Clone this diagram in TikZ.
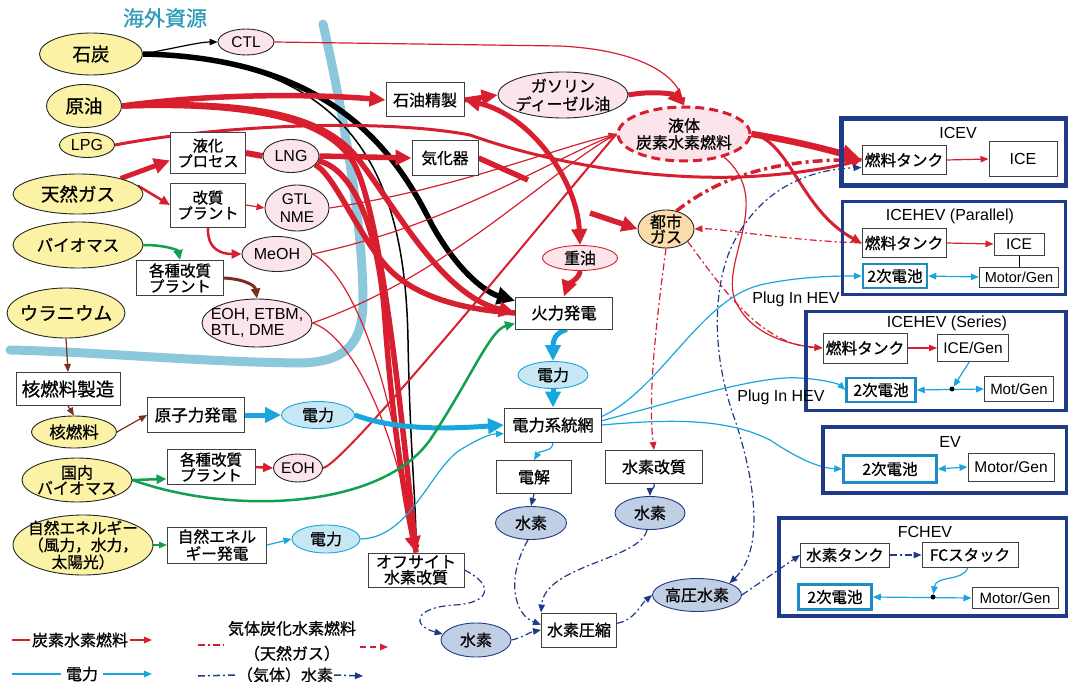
\documentclass[tikz,border=0pt]{standalone}
\usepackage{fontspec}
\setmainfont{Noto Sans CJK JP}[FakeBold=0.8]
\newfontfamily\lat{Liberation Sans}
\usetikzlibrary{arrows.meta,shapes.geometric}
\pgfdeclarelayer{bb}\pgfdeclarelayer{bg}
\pgfsetlayers{bb,bg,main}
\newcommand{\fz}[1]{\fontsize{#1}{#1}\selectfont}
\definecolor{cred}{HTML}{D71F30}
\definecolor{ccyan}{HTML}{18A6DE}
\definecolor{cnavy}{HTML}{1F3A88}
\definecolor{cgreen}{HTML}{13A04E}
\definecolor{cbrown}{HTML}{7B2E20}
\definecolor{cbound}{HTML}{8CC8DC}
\definecolor{fyel}{HTML}{FBF2A6}
\definecolor{fpink}{HTML}{FBE4EA}
\definecolor{forange}{HTML}{FADDAA}
\definecolor{fcyan}{HTML}{C6E7F3}
\definecolor{fhy}{HTML}{C1CFE4}
\definecolor{ctitle}{HTML}{2A9CB9}
\definecolor{cbat}{HTML}{1A8EC2}
\tikzset{
  lab/.style={align=center, inner sep=0},
  tx/.style 2 args={label={[lab,#1]center:{#2}}},
  sz/.style 2 args={minimum width=#1, minimum height=#2},
  ell/.style={ellipse, draw=black!85, line width=0.9, inner sep=0},
  yel/.style={ell, fill=fyel},
  pnk/.style={ell, fill=fpink},
  pw/.style={ell, fill=fcyan, draw=ccyan},
  hy/.style={ell, fill=fhy, draw=cnavy},
  bx/.style={rectangle, draw=black!75, fill=white, line width=1, inner sep=0, align=center, font=\fz{16}},
  veh/.style={rectangle, draw=cnavy, line width=3.5, inner sep=0},
  bat/.style={bx, draw=cbat, line width=2.5, font=\fz{15.5}},
  ah/.style={-{Triangle[length=16pt,width=15pt]}},
  am/.style={-{Triangle[length=10pt,width=9pt]}},
  asm/.style={-{Triangle[length=8pt,width=6.5pt]}},
  dd/.style={dash pattern=on 7pt off 3pt on 2pt off 3pt},
  dot/.style={circle, fill=black, inner sep=0, minimum size=5},
  ttxt/.style={font=\lat\fz{16}, inner sep=1},
}
\begin{document}
\begin{tikzpicture}[x=1pt,y=-1pt]
\useasboundingbox (0,0) rectangle (1068,682);

% title
\node[text=ctitle, font=\fz{21}] (ttl) at (165,18) {海外資源};

% yellow sources
\node[yel, sz={103}{42}, tx={font=\fz{18.5}}{石炭}] (coal) at (91,54) {};
\node[yel, sz={75}{43}, tx={font=\fz{18.5}}{原油}] (oil) at (84,106) {};
\node[yel, sz={55}{25}, tx={font=\lat\fz{16}}{LPG}] (lpg) at (87,145) {};
\node[yel, sz={130}{40}, tx={font=\fz{18.5}}{天然ガス}] (ng) at (78,194) {};
\node[yel, sz={130}{46}, tx={font=\fz{16.5}}{バイオマス}] (bio) at (78,245) {};
\node[yel, sz={118}{50}, tx={font=\fz{18.5}}{ウラニウム}] (ura) at (66,313) {};
\node[yel, sz={85}{32}, tx={font=\fz{16.5}}{核燃料}] (nfuel) at (74,432) {};
\node[yel, sz={110}{44}, tx={font=\fontsize{16}{15.5}\selectfont}{国内\\バイオマス}] (dbio) at (77,480) {};
\node[yel, sz={140}{60}, tx={font=\fontsize{15.7}{17}\selectfont}{自然エネルギー\\（風力，水力，\\太陽光）}] (nat) at (83,545) {};

% pink fuels
\node[pnk, sz={56}{26}, tx={font=\lat\fz{15.5}}{CTL}] (ctl) at (246,42) {};
\node[pnk, sz={56}{33}, tx={font=\lat\fz{16}}{LNG}] (lng) at (291,156) {};
\node[pnk, sz={64}{46}, tx={font=\lat\fontsize{15.5}{18}\selectfont}{GTL\\NME}] (gtl) at (297,208) {};
\node[pnk, sz={70}{35}, tx={font=\lat\fz{16}}{MeOH}] (meoh) at (277,254) {};
\node[pnk, sz={110}{48}, tx={font=\lat\fontsize{16}{15.5}\selectfont, align=left}{EOH, ETBM,\\BTL, DME}] (eoh1) at (257,323) {};
\node[pnk, sz={49}{28}, tx={font=\lat\fz{15.5}}{EOH}] (eoh2) at (298,468) {};
\node[pnk, sz={130}{46}, tx={font=\fontsize{16}{18}\selectfont}{ガソリン\\ディーゼル油}] (gas) at (563,95) {};
\node[pnk, sz={132}{54}, draw=cred, line width=3, dash pattern=on 9pt off 5pt, tx={font=\fontsize{16}{17}\selectfont}{液体\\炭素水素燃料}] (liq) at (684,134) {};
\node[pnk, sz={75}{25}, draw=cred, tx={font=\fz{16}}{重油}] (hvy) at (580,258) {};
\node[ell, fill=forange, sz={56}{38}, tx={font=\fontsize{16}{15}\selectfont}{都市\\ガス}] (city) at (666,229) {};

% power
\node[pw, sz={70}{27}, tx={font=\fz{16}}{電力}] (p1) at (553,375) {};
\node[pw, sz={73}{27}, tx={font=\fz{16}}{電力}] (p2) at (318,415) {};
\node[pw, sz={68}{28}, tx={font=\fz{16}}{電力}] (p3) at (326,539) {};

% hydrogen
\node[hy, sz={71}{33}, tx={font=\fz{16}}{水素}] (h1) at (531,523) {};
\node[hy, sz={70}{33}, tx={font=\fz{16}}{水素}] (h2) at (650,513) {};
\node[hy, sz={70}{34}, tx={font=\fz{16}}{水素}] (h3) at (476,640) {};
\node[hy, sz={89}{33}, tx={font=\fz{16}}{高圧水素}] (hp) at (697,595) {};

% boxes
\node[bx, sz={78}{34}] (ref) at (425,100) {石油精製};
\node[bx, sz={75}{41}, font=\fontsize{15.3}{15.5}\selectfont] (liqp) at (208,153) {液化\\プロセス};
\node[bx, sz={75}{44}, font=\fontsize{15.3}{15.5}\selectfont] (refp) at (208,205) {改質\\プラント};
\node[bx, sz={66}{34}, font=\fz{15.7}] (vap) at (445,158) {気化器};
\node[bx, sz={87}{35}, font=\fontsize{15.5}{15.5}\selectfont] (kp1) at (180,278) {各種改質\\プラント};
\node[bx, sz={104}{33}, font=\fz{18.5}] (nfm) at (68,389) {核燃料製造};
\node[bx, sz={97}{35}, font=\fz{16.5}] (npp) at (196,415) {原子力発電};
\node[bx, sz={88}{35}, font=\fontsize{15.5}{15.5}\selectfont] (kp2) at (211,467) {各種改質\\プラント};
\node[bx, sz={99}{36}, font=\fontsize{15.7}{17}\selectfont] (rep) at (217,545) {自然エネル\\ギー発電};
\node[bx, sz={97}{32}, font=\fz{16.3}] (tpp) at (564,313) {火力発電};
\node[bx, sz={97}{34}, font=\fz{16.3}] (grid) at (553,425) {電力系統網};
\node[bx, sz={75}{33}] (ely) at (534,477) {電解};
\node[bx, sz={97}{33}] (h2r) at (654,467) {水素改質};
\node[bx, sz={96}{34}, font=\fontsize{16}{15.5}\selectfont] (off) at (416,570) {オフサイト\\水素改質};
\node[bx, sz={75}{34}] (cmp) at (579,630) {水素圧縮};

% vehicles
\node[veh, line width=5, sz={225}{67}] (icev) at (954,152) {};
\node[ttxt] (icevt) at (958,133) {ICEV};
\node[bx, sz={84}{29}, font=\fz{15.7}] (ift1) at (904,160) {燃料タンク};
\node[bx, sz={68}{34}, font=\lat\fz{16}] (ice1) at (1023,159) {ICE};

\node[veh, sz={223}{93}] (par) at (954,248) {};
\node[ttxt] (part) at (950,216) {ICEHEV (Parallel)};
\node[bx, sz={84}{29}, font=\fz{15.7}] (ift2) at (904,243) {燃料タンク};
\node[bx, sz={50}{22}, font=\lat\fz{15.5}] (ice2) at (1019,244) {ICE};
\node[bat, sz={64}{24}] (bat2) at (895,276) {2次電池};
\node[bx, sz={79}{20}, font=\lat\fz{14.5}] (mg2) at (1019,277) {Motor/Gen};

\node[veh, sz={260}{99}] (ser) at (936,361) {};
\node[ttxt] (sert) at (947,323) {ICEHEV (Series)};
\node[bx, sz={84}{30}, font=\fz{15.7}] (ift3) at (865,348) {燃料タンク};
\node[bx, sz={71}{27}, font=\lat\fz{15.5}] (iceg) at (973,348) {ICE/Gen};
\node[bat, sz={69}{24}] (bat3) at (881,390) {2次電池};
\node[bx, sz={69}{25}, font=\lat\fz{15}] (mg3) at (1019,389) {Mot/Gen};
\node[dot] (dot3) at (952,389) {};

\node[veh, sz={244}{66}] (ev) at (945,460) {};
\node[ttxt] (evt) at (950,442) {EV};
\node[bat, sz={93}{27}] (bat4) at (890,469) {2次電池};
\node[bx, sz={86}{28}, font=\lat\fz{15.5}] (mg4) at (1011,467) {Motor/Gen};

\node[veh, sz={288}{98}] (fch) at (923,567) {};
\node[ttxt] (fcht) at (925,532) {FCHEV};
\node[bx, sz={89}{24}, font=\fz{15.5}] (htank) at (845,555) {水素タンク};
\node[bx, sz={96}{25}, font=\fz{15.5}] (fcs) at (970,555) {FCスタック};
\node[bat, sz={73}{25}] (bat5) at (835,597) {2次電池};
\node[bx, sz={86}{21}, font=\lat\fz{15}] (mg5) at (1015,598) {Motor/Gen};
\node[dot] (dot5) at (933,597) {};

% plug-in labels
\node[ttxt] (plug1) at (796,299) {Plug In HEV};
\node[ttxt] (plug2) at (781,397) {Plug In HEV};

% legend
\node[font=\fz{16}, inner sep=2] (lg1) at (80,640) {炭素水素燃料};
\coordinate (l1a) at (12,640); \coordinate (l1b) at (152,640);
\draw[cred, line width=1.5] (l1a) -- (lg1.west);
\draw[cred, line width=1.5, asm] (lg1.east) -- (l1b);
\node[font=\fz{16}, inner sep=5] (lg2) at (82,674) {電力};
\coordinate (l2a) at (12,674); \coordinate (l2b) at (152,674);
\draw[ccyan, line width=1.5] (l2a) -- (lg2.west);
\draw[ccyan, line width=1.5, asm] (lg2.east) -- (l2b);
\node[font=\fontsize{16}{25}\selectfont, align=center, inner sep=1] (lg3) at (292,641) {気体炭化水素燃料\\（天然ガス）};
\coordinate (l3a) at (198,645); \coordinate (l3b) at (224,645);
\coordinate (l3c) at (360,647); \coordinate (l3d) at (388,647);
\draw[cred, line width=1.5, dd] (l3a) -- (l3b);
\draw[cred, line width=1.5, dash pattern=on 6pt off 4pt, asm] (l3c) -- (l3d);
\node[font=\fz{16}, inner sep=1] (lg4) at (285,675) {（気体）水素};
\coordinate (l4a) at (198,676); \coordinate (l4b) at (363,676);
\draw[cnavy, line width=1.5, dd] (l4a) -- (lg4.west);
\draw[cnavy, line width=1.5, dd, asm] (lg4.east) -- (l4b);

% boundary
\begin{pgfonlayer}{bb}
\draw[cbound, line width=9, line cap=round] (323,24) .. controls (345,120) and (363,230) .. (363,300) .. controls (363,345) and (345,362) .. (300,363) .. controls (200,362) and (100,352) .. (10,350);
\end{pgfonlayer}

\begin{pgfonlayer}{bg}
% black
\draw[black, line width=1.2, asm] (coal.east) .. controls (180,47) and (200,42) .. (ctl.west);
\draw[black, line width=1.5, asm] (coal.east) .. controls (350,60) and (405,170) .. (408,340) .. controls (410,450) and (416,500) .. (off.north);
\draw[black, line width=5.5, -{Triangle[length=18pt,width=17pt]}] (coal.east) .. controls (330,58) and (395,150) .. (432,225) .. controls (460,275) and (488,293) .. (tpp.166);

% red thick
\draw[cred, line width=5.5, ah] (oil.east) .. controls (200,95) and (300,93) .. (ref.west);
\draw[cred, line width=5.5, ah] (oil.east) .. controls (250,100) and (320,115) .. (355,155) .. controls (395,205) and (440,295) .. (tpp.west);
\draw[cred, line width=5.5] (oil.east) .. controls (250,102) and (325,118) .. (352,160) .. controls (380,205) and (400,400) .. (off.north);
\draw[cred, line width=5.5, ah] (lng.east) -- (vap.west);
\draw[cred, line width=5.5] (lng.-20) .. controls (335,175) and (360,240) .. (390,270) .. controls (420,300) and (470,310) .. (tpp.west);
\draw[cred, line width=5.5, ah] (lng.-10) .. controls (350,168) and (378,220) .. (385,320) .. controls (392,420) and (405,500) .. (off.north);
\draw[cred, line width=5, ah] (ng.20) -- (liqp.191);
\draw[cred, line width=2.5, am] (ng.8) -- (refp.west);
\draw[cred, line width=6] (liqp.east) -- (lng.west);
\draw[cred, line width=1.2, asm] (refp.east) -- (gtl.west);
\draw[cred, line width=2.5, am] (refp.south) .. controls (207,250) and (222,254) .. (meoh.west);
\draw[cred, line width=5, ah] (ref.east) -- (gas.west);
\draw[cred, line width=5, {Triangle[length=16pt,width=15pt]}-{Triangle[length=16pt,width=15pt]}] (ref.east) .. controls (530,115) and (577,180) .. (hvy.north);
\draw[cred, line width=5, ah] (gas.east) .. controls (655,90) and (675,95) .. (liq.north);
\coordinate (vapend) at (528,180);
\coordinate (citystart) at (590,213);
\draw[cred, line width=5.5] (vap.east) -- (vapend);
\draw[cred, line width=5.5, ah] (citystart) -- (city.west);
\draw[cred, line width=5, ah] (hvy.south) .. controls (580,278) and (568,285) .. (tpp.north);
\draw[cred, line width=2.5, am] (kp2.east) -- (eoh2.west);
% red thin to liquid fuel
\draw[cred, line width=1.2, asm] (ctl.east) -- (560,46) .. controls (640,50) and (676,75) .. (liq.north);
\draw[cred, line width=1.2, asm] (gtl.east) .. controls (450,190) and (550,150) .. (liq.west);
\draw[cred, line width=1.2] (meoh.east) .. controls (450,225) and (550,160) .. (liq.west);
\draw[cred, line width=1.2] (eoh1.east) .. controls (450,275) and (550,170) .. (liq.west);
\draw[cred, line width=2] (eoh2.east) .. controls (345,465) and (560,200) .. (liq.west);
\draw[cred, line width=1.2] (meoh.east) .. controls (360,280) and (395,400) .. (off.north);
\draw[cred, line width=1.2] (eoh1.east) .. controls (350,335) and (395,420) .. (off.north);
% LPG
\draw[cred, line width=3, am] (lpg.east) .. controls (220,125) and (380,118) .. (470,135) .. controls (540,160) and (640,180) .. (740,177) .. controls (790,175) and (830,168) .. (ift1.west);
% liquid fuel to vehicles
\draw[cred, line width=6.5, -{Triangle[length=20pt,width=18pt]}] (liq.east) .. controls (790,140) and (830,150) .. (ift1.west);
\draw[cred, line width=3, am] (liq.east) .. controls (790,140) and (800,210) .. (ift2.west);
\draw[cred, line width=1.2, asm] (liq.-30) .. controls (775,200) and (720,260) .. (735,300) .. controls (750,335) and (790,345) .. (ift3.west);
% city gas
\draw[cred, line width=1.2, dd, asm] (city.-30) .. controls (720,285) and (760,345) .. (ift3.west);
\draw[cred, line width=1.2, dd, asm] (ift2.west) .. controls (780,240) and (720,228) .. (city.east);
\draw[cred, line width=3.5, dash pattern=on 10pt off 4pt on 3pt off 4pt] (city.60) .. controls (710,185) and (760,158) .. (ift1.west);
\draw[cred, line width=1.2, dd, asm] (city.south) .. controls (655,330) and (648,400) .. (h2r.north);
% vehicle internals
\draw[cred, line width=1.2, asm] (ift1.east) -- (ice1.west);
\draw[cred, line width=1.2, asm] (ift2.east) -- (ice2.west);
\draw[black, line width=1] (ice2.south) -- (mg2.north);
\draw[ccyan, line width=1.2, {Triangle[length=8pt,width=6.5pt]}-{Triangle[length=8pt,width=6.5pt]}] (bat2.east) -- (mg2.west);
\draw[cred, line width=1.2, asm] (ift3.east) -- (iceg.west);
\draw[ccyan, line width=1.2, asm] (iceg.-105) -- (dot3);
\draw[ccyan, line width=1.2, {Triangle[length=8pt,width=6.5pt]}-{Triangle[length=8pt,width=6.5pt]}] (bat3.east) -- (mg3.west);
\draw[ccyan, line width=1.2, {Triangle[length=8pt,width=6.5pt]}-{Triangle[length=8pt,width=6.5pt]}] (bat4.east) -- (mg4.west);
\draw[cnavy, line width=1.2, dd, asm] (htank.east) -- (fcs.west);
\draw[ccyan, line width=1.2, asm] (fcs.-100) .. controls (962,582) and (936,575) .. (dot5);
\draw[ccyan, line width=1.2, {Triangle[length=8pt,width=6.5pt]}-{Triangle[length=8pt,width=6.5pt]}] (bat5.east) -- (mg5.west);

% hydrogen
\draw[cnavy, line width=1.2, asm] (ely.south) -- (h1.north);
\draw[cnavy, line width=1.2, asm] (h2r.south) .. controls (656,488) and (650,490) .. (h2.north);
\draw[cnavy, line width=1.2, dd, asm] (h1.-100) .. controls (505,580) and (515,615) .. (cmp.172);
\draw[cnavy, line width=1.2, dd, asm] (h2.-100) .. controls (640,560) and (545,565) .. (cmp.north west);
\draw[cnavy, line width=1.2, dd, asm] (h3.east) .. controls (522,638) and (530,632) .. (cmp.west);
\draw[cnavy, line width=1.2, dd, asm] (off.east) .. controls (495,585) and (490,603) .. (455,605) .. controls (415,607) and (410,625) .. (h3.170);
\draw[cnavy, line width=1.2, dd, asm] (cmp.10) .. controls (635,620) and (640,605) .. (hp.west);
\draw[cnavy, line width=1.2, dd, asm] (hp.east) -- (htank.west);
\draw[cnavy, line width=1.2, dd, {Triangle[length=8pt,width=6.5pt]}-{Triangle[length=8pt,width=6.5pt]}] (hp.20) .. controls (765,550) and (755,480) .. (735,420) .. controls (715,365) and (710,300) .. (730,250) .. controls (755,195) and (800,170) .. (ift1.190);

% electricity
\draw[ccyan, line width=5, ah] (npp.east) -- (p2.west);
\draw[ccyan, line width=5, ah] (p2.east) .. controls (400,432) and (460,428) .. (grid.west);
\draw[ccyan, line width=5, ah] (tpp.-80) .. controls (555,333) and (553,340) .. (p1.north);
\draw[ccyan, line width=5, ah] (p1.south) -- (grid.north);
\draw[ccyan, line width=1.2, asm] (rep.east) -- (p3.west);
\draw[ccyan, line width=1.2, asm] (p3.east) .. controls (410,538) and (430,470) .. (460,450) .. controls (480,438) and (490,434) .. (grid.190);
\draw[ccyan, line width=1.2, asm] (grid.south) .. controls (553,452) and (540,450) .. (ely.north);
\draw[ccyan, line width=1.2, asm] (grid.10) .. controls (660,390) and (700,300) .. (760,285) .. controls (800,276) and (840,276) .. (bat2.west);
\draw[ccyan, line width=1.2, asm] (grid.5) .. controls (680,400) and (760,375) .. (800,378) .. controls (830,380) and (840,385) .. (bat3.west);
\draw[ccyan, line width=1.2, asm] (grid.0) .. controls (680,418) and (730,420) .. (770,440) .. controls (800,460) and (820,468) .. (bat4.west);

% green
\draw[cgreen, line width=2.5, am] (bio.east) .. controls (165,245) and (178,250) .. (kp1.north);
\draw[cgreen, line width=2.5, am] (dbio.east) -- (kp2.195);
\draw[cgreen, line width=2.5, am] (dbio.east) .. controls (230,515) and (380,510) .. (430,440) .. controls (470,380) and (490,330) .. (tpp.192);
\draw[cgreen, line width=1.2, asm] (nat.east) -- (rep.west);

% brown
\draw[cbrown, line width=3, am] (kp1.east) .. controls (243,279) and (255,285) .. (eoh1.north);
\draw[cbrown, line width=1.2, asm] (ura.south) -- (nfm.north);
\draw[cbrown, line width=1.2, asm] (nfm.south) -- (nfuel.north);
\draw[cbrown, line width=1.2, asm] (nfuel.east) -- (npp.west);
\end{pgfonlayer}
\end{tikzpicture}
\end{document}
